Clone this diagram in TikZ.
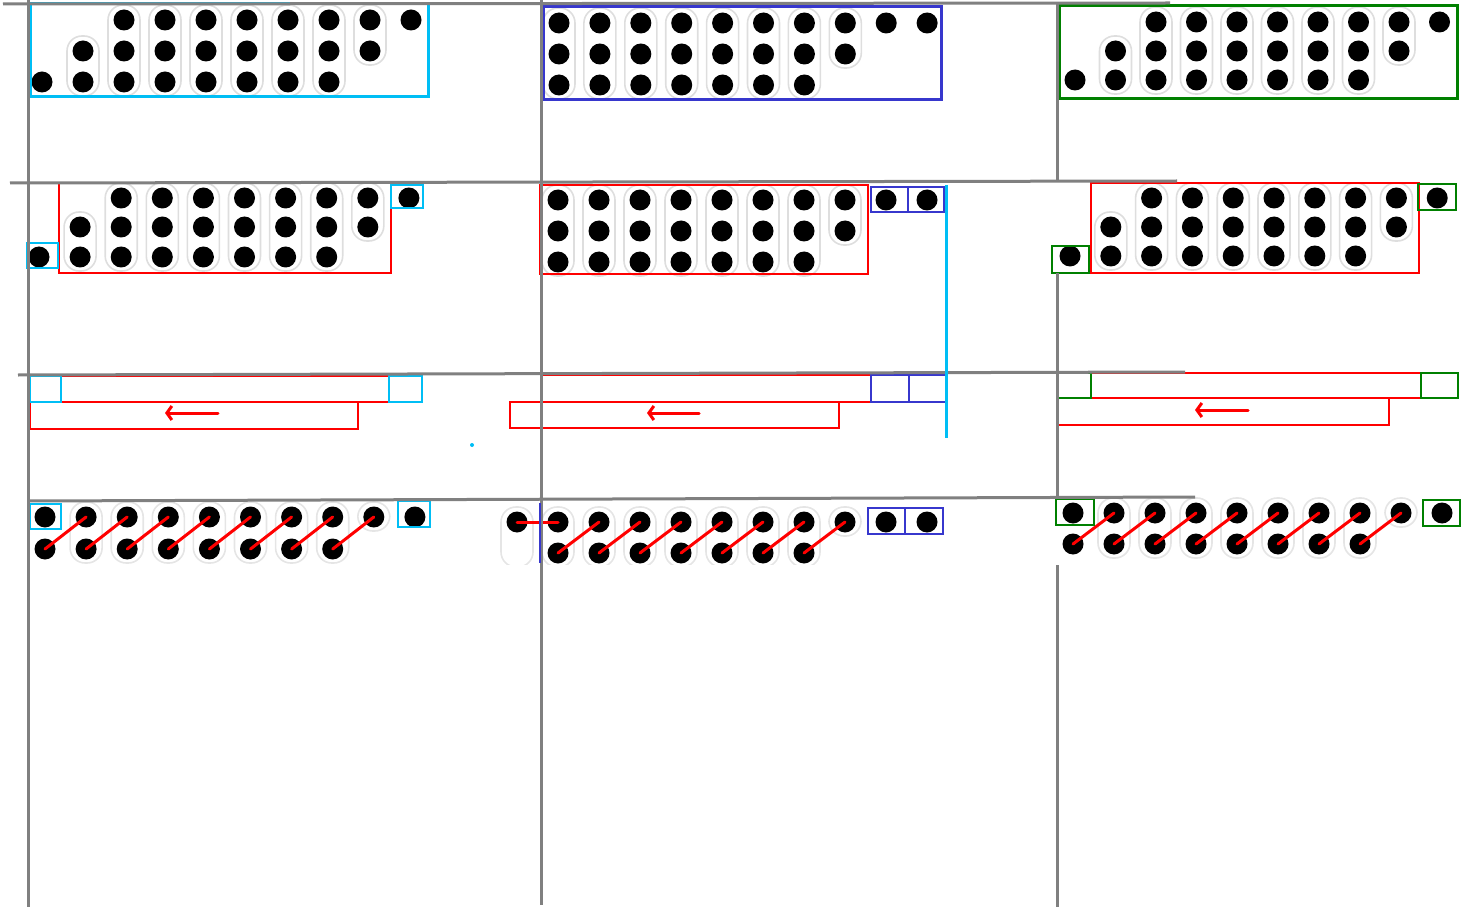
\documentclass[tikz,border=0pt]{standalone}
\usepackage{tikz}
\usetikzlibrary{arrows.meta}
\definecolor{skyline}{RGB}{0,190,245}
\definecolor{boxblue}{RGB}{55,55,205}
\definecolor{boxgreen}{RGB}{0,128,0}
% row of pegs: name, x0, dx, y, columns
\newcommand{\pegs}[5]{\foreach \i in {#5} \node[peg] (#1-\i) at ({#2+#3*\i},{#4}) {};}
% capsules: x0, dx, columns, y of top peg, y of bottom peg
\newcommand{\tubes}[5]{\foreach \i in {#3} \draw[tube] ({#1+#2*\i-16},{#4-15}) rectangle ({#1+#2*\i+16},{#5+14});}

\begin{document}
\begin{tikzpicture}[x=1pt, y=-1pt,
  peg/.style={circle,fill=black,inner sep=0pt,minimum size=21pt},
  tube/.style={draw=black!13,line width=1.6pt,rounded corners=15pt},
  rule/.style={draw=gray,line width=3pt},
  hold/.style={draw=red,line width=2pt},
  mv/.style={red,line width=3pt,line cap=round,-{Straight Barb[length=5pt,width=14pt]}},
  link/.style={red,line width=3pt,line cap=round}]
\useasboundingbox (0,0) rectangle (1469,909);

% top row
\tubes{42}{41}{1}{51}{82} \tubes{42}{41}{2,...,7}{20}{82} \tubes{42}{41}{8}{20}{51}
\pegs{tl-a}{42}{41}{20}{2,...,9} \pegs{tl-b}{42}{41}{51}{1,...,8} \pegs{tl-c}{42}{41}{82}{0,...,7}
\draw[skyline,line width=3pt] (30,4) rectangle (428,97);

\tubes{559}{40.9}{0,...,6}{23}{85} \tubes{559}{40.9}{7}{23}{54}
\pegs{tm-a}{559}{40.9}{23}{0,...,9} \pegs{tm-b}{559}{40.9}{54}{0,...,7} \pegs{tm-c}{559}{40.9}{85}{0,...,6}
\draw[boxblue,line width=3pt] (543,7) rectangle (941,100);

\tubes{1075}{40.5}{1}{51}{80} \tubes{1075}{40.5}{2,...,7}{22}{80} \tubes{1075}{40.5}{8}{22}{51}
\pegs{tr-a}{1075}{40.5}{22}{2,...,9} \pegs{tr-b}{1075}{40.5}{51}{1,...,8} \pegs{tr-c}{1075}{40.5}{80}{0,...,7}
\draw[boxgreen,line width=3pt] (1059,6) rectangle (1457,99);

% second row
\tubes{39}{41.1}{1}{227}{257} \tubes{39}{41.1}{2,...,7}{198}{257} \tubes{39}{41.1}{8}{198}{227}
\pegs{ml-a}{39}{41.1}{198}{2,...,9} \pegs{ml-b}{39}{41.1}{227}{1,...,8} \pegs{ml-c}{39}{41.1}{257}{0,...,7}
\draw[hold] (59,183) rectangle (391,273);
\draw[skyline,line width=2pt] (27,243) rectangle (58,268);
\draw[skyline,line width=2pt] (391,185) rectangle (423,208);

\tubes{558}{41}{0,...,6}{200}{262} \tubes{558}{41}{7}{200}{231}
\pegs{mm-a}{558}{41}{200}{0,...,9} \pegs{mm-b}{558}{41}{231}{0,...,7} \pegs{mm-c}{558}{41}{262}{0,...,6}
\draw[hold] (540,185) rectangle (868,274);
\draw[boxblue,line width=2pt] (871,187) rectangle (908,212);
\draw[boxblue,line width=2pt] (908,187) rectangle (944,212);

\fill[white] (1050,183) rectangle (1469,274);
\tubes{1070}{40.8}{1}{227}{256} \tubes{1070}{40.8}{2,...,7}{198}{256} \tubes{1070}{40.8}{8}{198}{227}
\pegs{mr-a}{1070}{40.8}{198}{2,...,9} \pegs{mr-b}{1070}{40.8}{227}{1,...,8} \pegs{mr-c}{1070}{40.8}{256}{0,...,7}
\draw[hold] (1091,183) rectangle (1419,273);
\draw[boxgreen,line width=2pt] (1418,184) rectangle (1456,210);
\draw[boxgreen,line width=2pt] (1052,246) rectangle (1089,273);

% third row
\draw[hold] (61,376) rectangle (389,402);
\draw[hold] (30,402) rectangle (358,429);
\draw[skyline,line width=2pt] (30,376) rectangle (61,402);
\draw[skyline,line width=2pt] (389,376) rectangle (422,402);
\coordinate (l-from) at (218,413); \coordinate (l-to) at (165,413);
\draw[mv] (l-from) -- (l-to);
\fill[skyline] (472,445) circle (2);

\draw[hold] (542,375) rectangle (871,402);
\draw[hold] (510,402) rectangle (839,428);
\draw[boxblue,line width=2pt] (871,375) rectangle (909,402);
\draw[boxblue,line width=2pt] (909,375) rectangle (947,402);
\coordinate (m-from) at (699,413); \coordinate (m-to) at (647,413);
\draw[mv] (m-from) -- (m-to);

\draw[hold] (1091,373) rectangle (1421,398);
\draw[hold] (1057,398) rectangle (1389,425);
\draw[boxgreen,line width=2pt] (1057,373) rectangle (1091,398);
\draw[boxgreen,line width=2pt] (1421,373) rectangle (1458,398);
\coordinate (r-from) at (1248,410); \coordinate (r-to) at (1195,410);
\draw[mv] (r-from) -- (r-to);

% bottom row
\fill[white] (1058,500) rectangle (1469,565);
\begin{scope}[tube/.append style={draw=black!10}]
\clip (0,490) rectangle (1469,564);
\tubes{45}{41.1}{1,...,7}{517}{549} \tubes{45}{41.1}{8}{517}{517}
\tubes{517}{41}{0,...,7}{522}{553} \tubes{517}{41}{8}{522}{522}
\tubes{1073}{41}{1,...,7}{513}{544} \tubes{1073}{41}{8}{513}{513}
\end{scope}

\pegs{bl-t}{45}{41.1}{517}{0,...,9} \pegs{bl-b}{45}{41.1}{549}{0,...,7}
\foreach \i [evaluate=\i as \j using int(\i+1)] in {0,...,7}
  \draw[link] (bl-b-\i.center) -- (bl-t-\j.center);
\draw[skyline,line width=2pt] (30,504) rectangle (61,529);
\draw[skyline,line width=2pt] (398,501) rectangle (430,527);

\pegs{bm-t}{517}{41}{522}{0,...,10} \pegs{bm-b}{558}{41}{553}{0,...,6}
\draw[link] (bm-t-0.center) -- (bm-t-1.center);
\foreach \i [evaluate=\i as \j using int(\i+2)] in {0,...,6}
  \draw[link] (bm-b-\i.center) -- (bm-t-\j.center);
\draw[boxblue,line width=2pt] (868,508) rectangle (905,534);
\draw[boxblue,line width=2pt] (905,508) rectangle (943,534);

\pegs{br-t}{1073}{41}{513}{0,...,9} \pegs{br-b}{1073}{41}{544}{0,...,7}
\foreach \i [evaluate=\i as \j using int(\i+1)] in {0,...,7}
  \draw[link] (br-b-\i.center) -- (br-t-\j.center);
\draw[boxgreen,line width=2pt] (1056,499) rectangle (1094,525);
\draw[boxgreen,line width=2pt] (1423,500) rectangle (1460,526);

% grid
\draw[rule] (3,4) -- (1170,3);
\draw[rule] (10,183) -- (1177,181);
\draw[rule] (18,375) -- (1185,372);
\draw[rule] (28,501) -- (1195,497);
\draw[rule] (28,0) -- (28,907);
\draw[rule] (541,0) -- (541,905);
\draw[rule] (1057,3) -- (1057,182);
\draw[rule] (1057,273) -- (1057,499);
\draw[rule] (1057,565) -- (1057,907);
\draw[boxblue,line width=2.5pt] (540,503) -- (540,563);
\draw[skyline,line width=3pt] (946,185) -- (946,438);
\end{tikzpicture}
\end{document}
